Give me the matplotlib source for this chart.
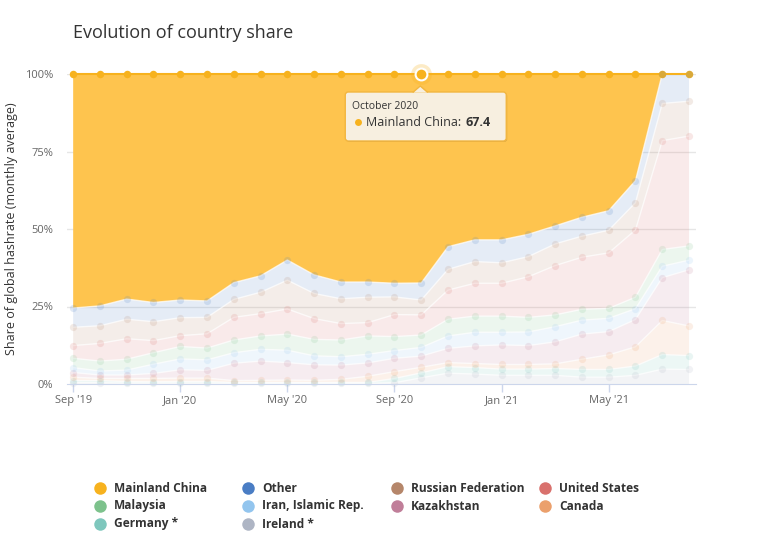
#Evolution of country share - bitcoin hashrate by country, monthly average
#stacked percent area chart, Mainland China highlighted (hover state)

import numpy as np
import matplotlib.pyplot as plt
from matplotlib.patches import FancyBboxPatch, Polygon

plt.rcParams['font.family'] = ['Open Sans', 'DejaVu Sans']

#months Sep 2019 .. Aug 2021
months = ['Sep 2019', 'Oct 2019', 'Nov 2019', 'Dec 2019', 'Jan 2020', 'Feb 2020',
          'Mar 2020', 'Apr 2020', 'May 2020', 'Jun 2020', 'Jul 2020', 'Aug 2020',
          'Sep 2020', 'October 2020', 'Nov 2020', 'Dec 2020', 'Jan 2021', 'Feb 2021',
          'Mar 2021', 'Apr 2021', 'May 2021', 'Jun 2021', 'Jul 2021', 'Aug 2021']
tick_idx = [0, 4, 8, 12, 16, 20]
tick_labels = ["Sep '19", "Jan '20", "May '20", "Sep '20", "Jan '21", "May '21"]

#share of hashrate (%)
china = [75.5, 74.8, 72.6, 73.7, 72.9, 73.2, 67.3, 65.1, 60.0, 64.8, 67.1, 67.1,
         67.5, 67.4, 55.7, 53.5, 53.5, 51.7, 49.0, 46.2, 44.1, 34.4, 0.0, 0.0]
other = [6.2, 6.4, 6.5, 6.2, 5.7, 5.3, 5.4, 5.3, 6.5, 6.0, 5.4, 4.9,
         4.4, 5.5, 7.3, 7.0, 7.4, 7.2, 5.8, 6.1, 6.3, 7.1, 9.5, 8.76]
russia = [5.9, 5.7, 6.3, 6.1, 5.8, 5.3, 5.8, 6.9, 9.3, 8.1, 8.0, 8.2,
          5.7, 4.8, 6.7, 7.0, 6.6, 6.5, 7.0, 6.8, 7.3, 8.8, 12.0, 11.23]
united_states = [4.1, 5.7, 6.6, 3.9, 3.5, 4.6, 7.3, 7.2, 8.1, 6.7, 5.3, 4.3,
                 7.1, 6.5, 9.4, 10.6, 10.6, 13.1, 15.9, 16.8, 17.9, 21.7, 35.1, 35.4]
malaysia = [3.0, 3.2, 3.5, 3.7, 4.0, 3.8, 4.1, 4.3, 5.2, 5.3, 5.4, 5.9,
            4.5, 4.0, 5.4, 5.2, 5.2, 4.7, 3.8, 3.5, 3.2, 3.7, 5.4, 4.59]
iran = [1.6, 1.3, 1.6, 3.0, 3.5, 3.4, 3.4, 3.8, 4.0, 2.9, 2.7, 2.8,
        2.5, 2.8, 4.0, 4.4, 4.1, 4.4, 4.9, 4.5, 4.3, 3.5, 3.7, 3.11]
kazakhstan = [1.5, 1.1, 1.1, 1.6, 2.7, 2.5, 5.6, 6.2, 5.6, 5.0, 4.6, 4.3,
              4.3, 3.6, 4.6, 5.7, 6.3, 6.1, 7.1, 8.1, 7.5, 8.8, 13.8, 18.1]
canada = [1.1, 0.7, 1.0, 1.1, 1.1, 1.1, 0.6, 0.7, 0.8, 0.7, 1.0, 2.0,
          2.2, 1.8, 1.3, 1.3, 1.5, 1.5, 1.5, 3.3, 4.7, 6.2, 11.0, 9.55]
germany = [0.7, 0.7, 0.5, 0.4, 0.5, 0.5, 0.3, 0.3, 0.3, 0.3, 0.3, 0.3,
           1.4, 1.6, 2.1, 2.1, 2.0, 2.0, 2.2, 2.5, 2.5, 3.0, 4.7, 4.48]
ireland = [0.4, 0.4, 0.3, 0.3, 0.3, 0.3, 0.2, 0.2, 0.2, 0.2, 0.2, 0.2,
           0.4, 2.0, 3.5, 3.2, 2.8, 2.8, 2.8, 2.2, 2.2, 2.8, 4.8, 4.68]

#series in legend order (top of stack first)
names = ['Mainland China', 'Other', 'Russian Federation', 'United States', 'Malaysia',
         'Iran, Islamic Rep.', 'Kazakhstan', 'Canada', 'Germany *', 'Ireland *']
series = [china, other, russia, united_states, malaysia, iran, kazakhstan, canada, germany, ireland]
colors = ['#f7b21e', '#4a7dc4', '#b5866a', '#d9716d', '#7dc28c',
          '#93c5ee', '#c07e99', '#eba06c', '#7ec7bd', '#aeb5c4']
hover_idx = 13

x = np.arange(len(months))
vals = np.array(series[::-1], dtype=float)  # bottom of stack first
pct = vals / vals.sum(axis=0) * 100
cum = np.cumsum(pct, axis=0)
cols_bu = colors[::-1]

fig = plt.figure(figsize=(7.68, 5.54), dpi=100)
ax = fig.add_axes([67/768, 170/554, 629/768, 310/554])

#gridlines behind
for yv in [25, 50, 75, 100]:
    ax.axhline(yv, color='#e6e6e6', lw=1, zorder=0)

polys = ax.stackplot(x, *pct, colors=cols_bu, linewidth=0, zorder=1)
for i, p in enumerate(polys):
    if i == len(polys) - 1:
        p.set_facecolor('#fec44e')
        p.set_alpha(1)
    else:
        p.set_alpha(0.14)

#China line + markers (top of stack)
ax.plot(x, cum[-1], color=colors[0], lw=1.5, marker='o', ms=5.4, mec='none',
        clip_on=False, zorder=3)

#faded series lines + markers
for i in range(len(polys) - 1):
    ax.plot(x, cum[i], color='white', lw=1, alpha=0.7, zorder=2)
    ax.plot(x, cum[i], 'o', ms=5.2, color=cols_bu[i], alpha=0.17, mec='none',
            clip_on=False, zorder=4)

#hovered point
hy = cum[-1][hover_idx]
ax.plot(hover_idx, hy, 'o', ms=15, color=colors[0], alpha=0.25, mec='none', clip_on=False, zorder=6)
ax.plot(hover_idx, hy, 'o', ms=8.5, color=colors[0], mec='white', mew=1.5, clip_on=False, zorder=7)

ax.set_xlim(-0.23, 23.26)
ax.set_ylim(0, 100)
ax.set_yticks([0, 25, 50, 75, 100])
ax.set_yticklabels(['0%', '25%', '50%', '75%', '100%'], fontsize=8, color='#666666')
ax.set_xticks(tick_idx)
ax.set_xticklabels(tick_labels, fontsize=8, color='#666666')
ax.tick_params(axis='y', length=0, pad=10)
ax.tick_params(axis='x', length=6, width=1, color='#ccd6eb', pad=2)
for s in ['top', 'right', 'left']:
    ax.spines[s].set_visible(False)
ax.spines['bottom'].set_color('#ccd6eb')
ax.spines['bottom'].set_zorder(5)
ax.set_ylabel('Share of global hashrate (monthly average)', fontsize=9, color='#333333', labelpad=5)

fig.text(73/768, 1 - 33/554, 'Evolution of country share', fontsize=13, color='#333333',
         va='center', ha='left')

#overlay in pixel coords for tooltip + legend
ov = fig.add_axes([0, 0, 1, 1], zorder=10)
ov.set_xlim(0, 768)
ov.set_ylim(554, 0)
ov.axis('off')

ax_px = ax.transData.transform((hover_idx, hy))
ax_fig = fig.transFigure.inverted().transform(ax_px)
tx, ty = ax_fig[0] * 768, (1 - ax_fig[1]) * 554

#tooltip
shadow = FancyBboxPatch((tx - 75, ty + 19), 161, 49, boxstyle='round,pad=0,rounding_size=3',
                        fc='#000000', ec='none', alpha=0.12)
ov.add_patch(shadow)
box = FancyBboxPatch((tx - 76, ty + 18), 161, 49, boxstyle='round,pad=0,rounding_size=3',
                     fc='#f7efe0', ec='#f2b640', lw=1)
ov.add_patch(box)
ov.add_patch(Polygon([[tx - 8, ty + 18.6], [tx - 1, ty + 12], [tx + 6, ty + 18.6]],
                     closed=True, fc='#f7efe0', ec='none'))
ov.plot([tx - 8, tx - 1, tx + 6], [ty + 18, ty + 12, ty + 18], color='#f2b640', lw=1)
ov.text(tx - 69, ty + 32, months[hover_idx], fontsize=7.5, color='#333333', va='center')
ov.plot(tx - 63, ty + 48, 'o', ms=5, color=colors[0], mec='none')
t1 = ov.text(tx - 55, ty + 48, names[0] + ':', fontsize=9, color='#333333', va='center')
ov.annotate('%.1f' % china[hover_idx], xy=(1, 0.5), xycoords=t1, xytext=(4, 0),
            textcoords='offset pixels', fontsize=9, color='#333333', va='center',
            ha='left', fontweight='bold')

#legend, 4 columns, row by row
col_x = [100, 248, 397, 545]
row_y = [488, 506, 524]
for k, (nm, c) in enumerate(zip(names, colors)):
    cx = col_x[k % 4]
    cy = row_y[k // 4]
    ov.plot(cx, cy, 'o', ms=9, color=c, mec='none')
    ov.text(cx + 14, cy, nm, fontsize=8.6, color='#333333', va='center', fontweight='bold')

fig.savefig('out.png', dpi=100)
